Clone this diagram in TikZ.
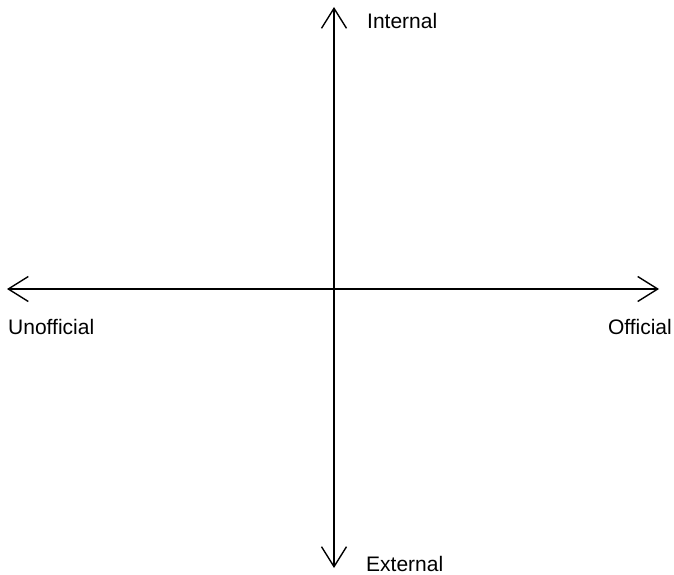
\documentclass[tikz,border=0pt]{standalone}
\usepackage{fontspec}
\setmainfont{Liberation Sans}
\usetikzlibrary{arrows.meta}

\begin{document}
\begin{tikzpicture}[x=1pt,y=-1pt,
 axis/.style={{Straight Barb[length=20pt,width=25pt,line width=1.4pt]}-{Straight Barb[length=20pt,width=25pt,line width=1.4pt]},line width=1.6pt,black},
 lab/.style={font=\fontsize{21}{24}\selectfont,inner sep=0pt}]
\useasboundingbox (0,0) rectangle (674,575);
\coordinate (top) at (334,7);
\coordinate (bottom) at (334,568);
\coordinate (left) at (7,289);
\coordinate (right) at (659,289);
\draw[axis] (bottom)--(top);
\draw[axis] (left)--(right);
\node[lab,anchor=base west] (internal) at (367,29) {Internal};
\node[lab,anchor=base west] (external) at (366,571) {External};
\node[lab,anchor=base west] (unofficial) at (8,334) {Unofficial};
\node[lab,anchor=base east] (official) at (672,334) {Official};
\end{tikzpicture}
\end{document}
